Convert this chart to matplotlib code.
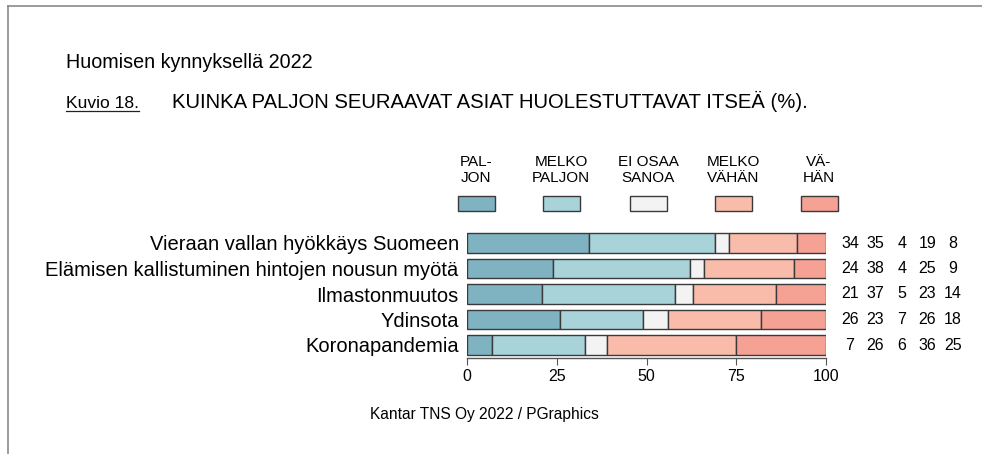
import matplotlib
matplotlib.use("Agg")
import matplotlib.pyplot as plt
import matplotlib.transforms as mtransforms
from matplotlib.patches import Rectangle
from matplotlib.lines import Line2D

categories = ["Vieraan vallan hyökkäys Suomeen",
              "Elämisen kallistuminen hintojen nousun myötä",
              "Ilmastonmuutos",
              "Ydinsota",
              "Koronapandemia"]
series_names = ["PAL-\nJON", "MELKO\nPALJON", "EI OSAA\nSANOA", "MELKO\nVÄHÄN", "VÄ-\nHÄN"]
paljon       = [34, 24, 21, 26, 7]
melko_paljon = [35, 38, 37, 23, 26]
ei_osaa      = [4, 4, 5, 7, 6]
melko_vahan  = [19, 25, 23, 26, 36]
vahan        = [8, 9, 14, 18, 25]
series = [paljon, melko_paljon, ei_osaa, melko_vahan, vahan]
colors = ["#7fb3c1", "#a8d3d8", "#f2f3f2", "#f9bcab", "#f5a194"]
xticks = [0, 25, 50, 75, 100]

FONT = ["Liberation Sans", "DejaVu Sans"]
plt.rcParams['font.family'] = FONT

W, H = 982, 454
fig = plt.figure(figsize=(W/100, H/100), dpi=100)
fig.patch.set_facecolor("white")

def fx(px): return px / W
def fy(py): return 1 - py / H

# frame lines (top and left)
fig.add_artist(Line2D([fx(8), 1.0], [fy(6), fy(6)], color="#8a8a8a", lw=1.2))
fig.add_artist(Line2D([fx(8), fx(8)], [fy(6), 0.0], color="#8a8a8a", lw=1.2))

ax_left, ax_right = 467, 826
ax_top, ax_bot = 230.25, 357.75
ax = fig.add_axes([fx(ax_left), fy(ax_bot), fx(ax_right - ax_left), (ax_bot - ax_top) / H])

n = len(categories)
ypos = list(range(n))
left = [0] * n
for vals, c in zip(series, colors):
    ax.barh(ypos, vals, left=left, height=0.75, color=c, edgecolor="#3a3a3a", linewidth=1.0)
    left = [l + v for l, v in zip(left, vals)]

ax.set_xlim(0, 100)
ax.set_ylim(n - 0.5, -0.5)
for s in ["top", "right", "left"]:
    ax.spines[s].set_visible(False)
ax.spines["bottom"].set_color("#555555")
ax.spines["bottom"].set_linewidth(1.0)
ax.set_xticks(xticks)
ax.set_xticklabels([str(t) for t in xticks], fontsize=11.5)
ax.tick_params(axis="x", length=5, color="#555555", pad=3)
ax.set_yticks(ypos)
ax.set_yticklabels(categories, fontsize=14.5)
ax.tick_params(axis="y", length=0, pad=6)
ax.set_facecolor("none")

# values at right
col_center = [850, 875.5, 901.8, 927.3, 953]
trans_y = mtransforms.blended_transform_factory(fig.transFigure, ax.transData)
for j, vals in enumerate(series):
    for i, v in enumerate(vals):
        fig.text(fx(col_center[j]), i, str(v), transform=trans_y, ha="center", va="center",
                 fontsize=11.5)

# legend
leg_cx = [476, 561, 648, 733, 819]
for cx, name, c in zip(leg_cx, series_names, colors):
    fig.add_artist(Rectangle((fx(cx - 18.5), fy(210.5)), fx(37), (14.5) / H,
                             facecolor=c, edgecolor="#3a3a3a", linewidth=1.0,
                             transform=fig.transFigure))
    fig.text(fx(cx), fy(170), name, ha="center", va="center", fontsize=11,
             linespacing=1.15)

fig.text(fx(66), fy(62), "Huomisen kynnyksellä 2022", ha="left", va="center", fontsize=14.2)
fig.text(fx(66), fy(108), "Kuvio 18.", ha="left", va="baseline", fontsize=12.6)
fig.add_artist(Line2D([fx(66), fx(139)], [fy(111), fy(111)], color="#222222", lw=0.9))
fig.text(fx(172), fy(108), "KUINKA PALJON SEURAAVAT ASIAT HUOLESTUTTAVAT ITSEÄ (%).",
         ha="left", va="baseline", fontsize=14.6)
fig.text(fx(484), fy(414), "Kantar TNS Oy 2022 / PGraphics", ha="center", va="center",
         fontsize=11.2)

fig.savefig("out.png", dpi=100, facecolor="white")
